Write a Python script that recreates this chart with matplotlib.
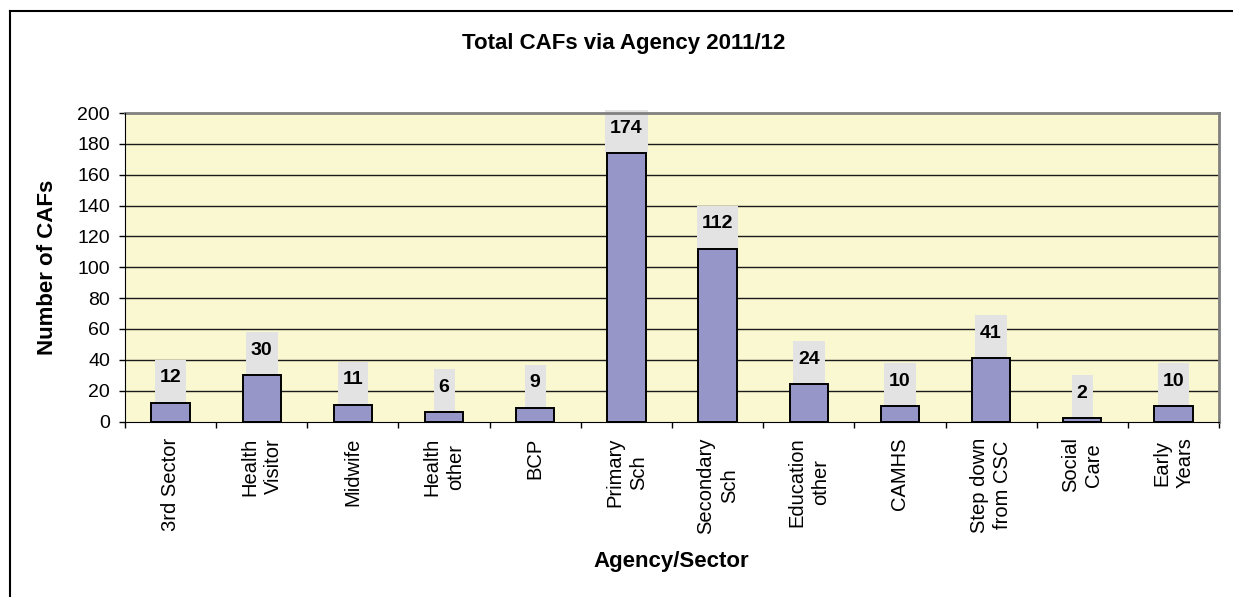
import matplotlib
matplotlib.use('Agg')
import matplotlib.pyplot as plt
from matplotlib.patches import Rectangle
from matplotlib.lines import Line2D
from matplotlib.transforms import offset_copy, IdentityTransform

plt.rcParams['font.family'] = ['Liberation Sans', 'DejaVu Sans']

# agencies referring CAFs and how many each sent in 2011/12
agencies = ['3rd Sector', 'Health\nVisitor', 'Midwife', 'Health\nother', 'BCP',
            'Primary\nSch', 'Secondary\nSch', 'Education\nother', 'CAMHS',
            'Step down\nfrom CSC', 'Social\nCare', 'Early\nYears']
caf_counts = [12, 30, 11, 6, 9, 174, 112, 24, 10, 41, 2, 10]
y_ticks = [0, 20, 40, 60, 80, 100, 120, 140, 160, 180, 200]

W, H = 1233, 597
fig = plt.figure(figsize=(W / 100, H / 100), dpi=100)
fig.patch.set_facecolor('white')

# plot area in pixel terms
left, right, top, bottom = 125, 1219, 113, 421.5
ax = fig.add_axes([left / W, (H - bottom) / H, (right - left) / W, (bottom - top) / H])
ax.set_facecolor('#FAF8D0')

x = list(range(len(agencies)))
ax.bar(x, caf_counts, width=0.42, color='#9696C8', edgecolor='black',
       linewidth=1.4, zorder=3)

ax.set_xlim(-0.5, len(agencies) - 0.5)
ax.set_ylim(0, 200)
ax.set_yticks(y_ticks)
ax.set_yticklabels([str(t) for t in y_ticks], fontsize=14)
ax.tick_params(axis='y', length=4.3, width=1, pad=6.5, direction='out')

# category names sit under the centres, tick marks go between categories
ax.set_xticks(x)
ax.set_xticklabels(agencies, rotation=90, fontsize=14.5, va='top', ha='center',
                   multialignment='center', linespacing=1.3)
ax.tick_params(axis='x', which='major', length=0, pad=11.5)
ax.set_xticks([i - 0.5 for i in range(len(agencies) + 1)], minor=True)
ax.tick_params(axis='x', which='minor', length=4.3, width=1, direction='out')

for t in y_ticks[1:-1]:
    ax.axhline(t, color='#1a1a1a', linewidth=1, zorder=1)

ax.spines['left'].set_color('black')
ax.spines['bottom'].set_color('black')
ax.spines['top'].set_color('#808080')
ax.spines['right'].set_color('#808080')
ax.spines['top'].set_linewidth(2)
ax.spines['right'].set_linewidth(2)
ax.spines['left'].set_zorder(4)
ax.spines['bottom'].set_zorder(4)

# value labels on grey boxes sitting on each bar
label_trans = offset_copy(ax.transData, fig=fig, y=25, units='dots')
labels = []
for i, v in zip(x, caf_counts):
    t = ax.text(i, v, str(v), transform=label_trans, ha='center', va='center',
                fontsize=14, fontweight='bold', zorder=6, clip_on=False)
    labels.append((i, v, t))

fig.canvas.draw()
renderer = fig.canvas.get_renderer()
for i, v, t in labels:
    ext = t.get_window_extent(renderer)
    bx, by = ax.transData.transform((i, v))
    w = ext.width + 10
    box = Rectangle((bx - w / 2, by), w, 43, transform=IdentityTransform(),
                    facecolor='#E3E3E3', edgecolor='none', zorder=2.5, clip_on=False)
    ax.add_patch(box)

fig.text(624 / W, 1 - 43 / H, 'Total CAFs via Agency 2011/12', ha='center', va='center',
         fontsize=16, fontweight='bold')
fig.text(48 / W, 1 - 267 / H, 'Number of CAFs', ha='center', va='center', rotation=90,
         fontsize=16, fontweight='bold')
fig.text(671 / W, 1 - 567 / H, 'Agency/Sector', ha='center', va='baseline',
         fontsize=16, fontweight='bold')

# chart frame, only its top and left edges fall inside the image
fig.add_artist(Line2D([9.5 / W, 9.5 / W], [0, 1 - 10.5 / H], color='black', linewidth=1.5))
fig.add_artist(Line2D([9.5 / W, 1], [1 - 10.5 / H, 1 - 10.5 / H], color='black', linewidth=1.5))

fig.savefig('out.png', dpi=100)
